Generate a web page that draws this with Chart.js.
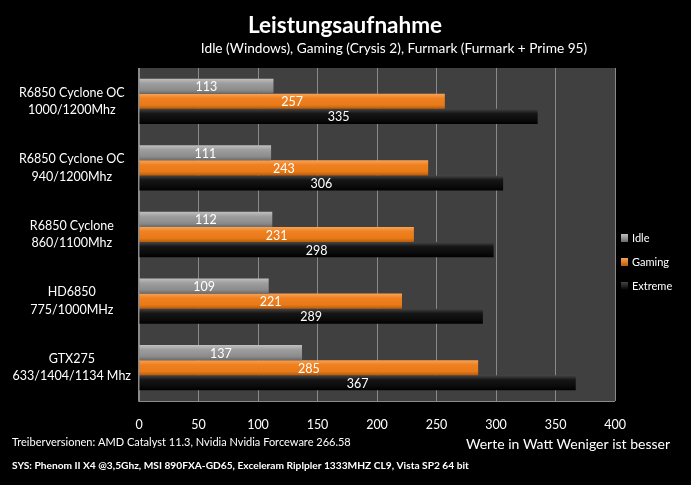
<!DOCTYPE html>
<html>
<head>
<meta charset="utf-8">
<script src="https://cdn.jsdelivr.net/npm/chart.js@4"></script>
<style>
  html, body { margin:0; padding:0; background:#000; }
  #wrap { width:691px; height:485px; position:relative; }
</style>
</head>
<body>
<div id="wrap"><canvas id="c" width="691" height="485"></canvas></div>
<script>
// data
const categories = [
  ['R6850 Cyclone OC', '1000/1200Mhz'],
  ['R6850 Cyclone OC', '940/1200Mhz'],
  ['R6850 Cyclone', '860/1100Mhz'],
  ['HD6850', '775/1000MHz'],
  ['GTX275', '633/1404/1134 Mhz']
];
const seriesNames = ['Idle', 'Gaming', 'Extreme'];
const idle = [113, 111, 112, 109, 137];
const gaming = [257, 243, 231, 221, 285];
const extreme = [335, 306, 298, 289, 367];
const xTicks = [0, 50, 100, 150, 200, 250, 300, 350, 400];

const FONT = 'Lato, "Open Sans", sans-serif';
const CAT_PCT = 0.68;

// gradient stops for each series (top -> bottom of a bar)
const palettes = [
  ['#c0c0c0', '#9e9e9e', '#8c8c8c', '#6a6a6a'],
  ['#f7a458', '#f08020', '#e87a18', '#b85a0a'],
  ['#454545', '#161616', '#0a0a0a', '#000000']
];

function barFill(ctx){
  const chart = ctx.chart;
  const ys = chart.scales.y;
  const pal = palettes[ctx.datasetIndex];
  if (!ys || ys.height == null || ctx.dataIndex == null) return pal[1];
  const catH = ys.height / categories.length;
  const barH = catH * CAT_PCT / 3;
  const center = ys.getPixelForValue(ctx.dataIndex);
  const top = center - catH * CAT_PCT / 2 + ctx.datasetIndex * barH;
  const g = chart.ctx.createLinearGradient(0, top, 0, top + barH);
  g.addColorStop(0, pal[0]);
  g.addColorStop(0.3, pal[1]);
  g.addColorStop(0.75, pal[2]);
  g.addColorStop(1, pal[3]);
  return g;
}

const decor = {
  id: 'decor',
  beforeDraw(chart){
    const {ctx, chartArea:a} = chart;
    ctx.save();
    ctx.fillStyle = '#000';
    ctx.fillRect(0, 0, chart.width, chart.height);
    ctx.fillStyle = '#404040';
    ctx.fillRect(a.left, a.top, a.right - a.left, a.bottom - a.top);
    ctx.restore();
  },
  afterDraw(chart){
    const {ctx, chartArea:a} = chart;
    ctx.save();
    // plot border
    ctx.strokeStyle = '#8a8a8a';
    ctx.lineWidth = 1;
    ctx.beginPath();
    ctx.moveTo(a.left - 0.5, a.top);
    ctx.lineTo(a.left - 0.5, a.bottom + 0.5);
    ctx.lineTo(a.right, a.bottom + 0.5);
    ctx.stroke();

    // value labels inside bars
    ctx.fillStyle = '#fff';
    ctx.font = '12.5px ' + FONT;
    ctx.textAlign = 'center';
    ctx.textBaseline = 'middle';
    chart.data.datasets.forEach((ds, di) => {
      chart.getDatasetMeta(di).data.forEach((bar, i) => {
        const x = (bar.base + bar.x) / 2;
        ctx.fillText(String(ds.data[i]), x, bar.y + 1);
      });
    });

    // titles
    ctx.textAlign = 'center';
    ctx.textBaseline = 'alphabetic';
    ctx.font = 'bold 22.5px ' + FONT;
    ctx.fillText('Leistungsaufnahme', 345, 33);
    ctx.font = '13.7px ' + FONT;
    ctx.fillText('Idle (Windows), Gaming (Crysis 2), Furmark (Furmark + Prime 95)', 394, 53);

    // legend
    ctx.textAlign = 'left';
    ctx.textBaseline = 'middle';
    ctx.font = '11px ' + FONT;
    const legY = [238, 262, 286];
    seriesNames.forEach((name, i) => {
      const pal = palettes[i];
      const g = ctx.createLinearGradient(0, legY[i] - 4, 0, legY[i] + 4);
      g.addColorStop(0, pal[0]); g.addColorStop(1, pal[3]);
      ctx.fillStyle = g;
      ctx.fillRect(621, legY[i] - 4, 7, 8);
      ctx.fillStyle = '#fff';
      ctx.fillText(name, 632, legY[i]);
    });

    // footer notes
    ctx.font = '11px ' + FONT;
    ctx.fillText('Treiberversionen: AMD Catalyst 11.3, Nvidia Nvidia Forceware 266.58', 12, 442);
    ctx.font = 'bold 10.2px ' + FONT;
    ctx.fillText('SYS: Phenom II X4 @3,5Ghz, MSI 890FXA-GD65, Exceleram Riplpler 1333MHZ CL9, Vista SP2 64 bit', 12, 466);
    ctx.font = '14px ' + FONT;
    ctx.textAlign = 'right';
    ctx.fillText('Werte in Watt Weniger ist besser', 670, 444);
    ctx.restore();
  }
};

new Chart(document.getElementById('c'), {
  type: 'bar',
  data: {
    labels: categories,
    datasets: [
      { label: seriesNames[0], data: idle, backgroundColor: barFill },
      { label: seriesNames[1], data: gaming, backgroundColor: barFill },
      { label: seriesNames[2], data: extreme, backgroundColor: barFill }
    ]
  },
  plugins: [decor],
  options: {
    indexAxis: 'y',
    responsive: false,
    animation: false,
    devicePixelRatio: 1,
    layout: { padding: { top: 68, right: 76, left: 0, bottom: 0 } },
    datasets: { bar: { categoryPercentage: CAT_PCT, barPercentage: 1, borderWidth: 0 } },
    plugins: { legend: { display: false }, tooltip: { enabled: false }, title: { display: false } },
    scales: {
      x: {
        min: 0, max: 400,
        afterBuildTicks(s){ s.ticks = xTicks.map(v => ({ value: v })); },
        afterFit(s){ s.height = 84; },
        grid: { color: '#8a8a8a', drawTicks: false, drawOnChartArea: true },
        border: { display: false },
        ticks: { color: '#fff', font: { family: FONT, size: 12.5 }, padding: 16 }
      },
      y: {
        afterFit(s){ s.width = 139; },
        grid: { display: false },
        border: { display: false },
        ticks: { color: '#fff', font: { family: FONT, size: 12.5, lineHeight: 1.4 }, crossAlign: 'center', padding: 0 }
      }
    }
  }
});
</script>
</body>
</html>
